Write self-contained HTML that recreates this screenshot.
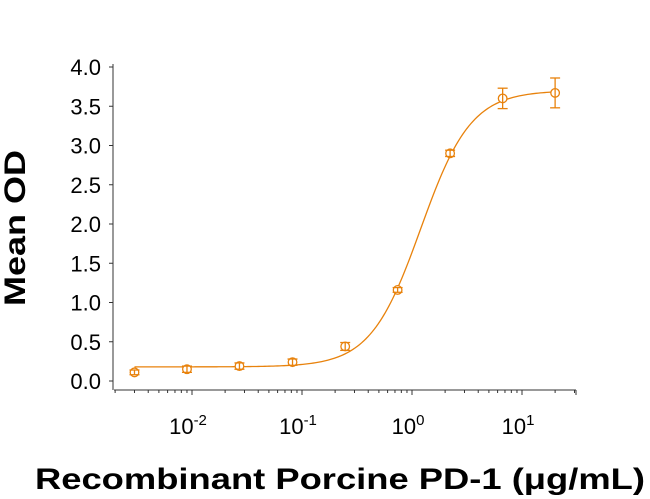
<!DOCTYPE html>
<html><head><meta charset="utf-8"><style>
html,body{margin:0;padding:0;background:#fff;}
svg{display:block;font-family:"Liberation Sans",Arial,sans-serif;}
</style></head><body>
<svg id="chart" width="650" height="499" viewBox="0 0 650 499">
<g id="axes"></g><g id="marks"></g>
<text x="25" y="228" transform="rotate(-90 25 228)" text-anchor="middle" font-size="30" font-weight="bold" textLength="156" lengthAdjust="spacingAndGlyphs">Mean OD</text>
<text x="340" y="489" text-anchor="middle" font-size="30" font-weight="bold" textLength="610" lengthAdjust="spacingAndGlyphs">Recombinant Porcine PD-1 (μg/mL)</text>
</svg>
<script>
const concentrations=[0.003,0.009,0.027,0.082,0.247,0.74,2.22,6.67,20];
const meanOD=[0.11,0.15,0.19,0.24,0.44,1.16,2.90,3.60,3.67];
const errorOD=[0.03,0.04,0.04,0.04,0.05,0.03,0.04,0.13,0.19];
const yTicks=[0,0.5,1,1.5,2,2.5,3,3.5,4];
const xDecades=[-2,-1,0,1];
const fitBottom=0.18, fitTop=3.70, fitEC50=1.2, fitHill=1.9;

const NS="http://www.w3.org/2000/svg";
const color="#e8820c";
const xs=v=>412+110*Math.log10(v);
const ys=v=>381-78.5*v;
function mk(tag,attrs,parent){const e=document.createElementNS(NS,tag);for(const k in attrs)e.setAttribute(k,attrs[k]);parent.appendChild(e);return e;}
const axes=document.getElementById('axes'), marks=document.getElementById('marks');

let yl=mk('line',{x1:113,y1:ys(4)-3,x2:113,y2:390,stroke:'#333','stroke-width':1},axes);


yTicks.forEach(t=>{
 let tk=mk('line',{x1:109,y1:ys(t),x2:113,y2:ys(t),stroke:'#333'},axes);
 
 
 let tx=mk('text',{x:101,y:ys(t)+8,'text-anchor':'end','font-size':22},axes);
 tx.textContent=t.toFixed(1);
 
 
});
let xl=mk('line',{x1:114,y1:390,x2:576,y2:390,stroke:'#333'},axes);


for(let d=-3;d<=1;d++){for(let m=1;m<=9;m++){const v=m*Math.pow(10,d);const x=xs(v);if(x<114||x>576)continue;
 let tk=mk('line',{x1:x,y1:390,x2:x,y2:m===1?395:393,stroke:'#333'},axes);
 
 }}
let te=mk('line',{x1:576,y1:390,x2:576,y2:395,stroke:'#333'},axes);


xDecades.forEach(d=>{
 const x=xs(Math.pow(10,d));
 let tx=mk('text',{x:x-4,y:434,'text-anchor':'middle','font-size':22},axes);
 tx.textContent='10';
 let sup=mk('tspan',{dy:-9,'font-size':15},tx);sup.textContent=String(d);
 
 
});

const fit=c=>fitBottom+(fitTop-fitBottom)/(1+Math.pow(fitEC50/c,fitHill));
let dstr='';const lo=Math.log10(concentrations[0]),hi=Math.log10(concentrations[concentrations.length-1]);
for(let i=0;i<=200;i++){const c=Math.pow(10,lo+(hi-lo)*i/200);dstr+=(i?'L':'M')+xs(c).toFixed(2)+','+ys(fit(c)).toFixed(2);}
let curve=mk('path',{d:dstr,fill:'none',stroke:color,'stroke-width':1.3},marks);



concentrations.forEach((c,i)=>{
 const x=xs(c),y=ys(meanOD[i]),e=errorOD[i]*78.5;
 let g=mk('g',{stroke:color,'stroke-width':1.3,fill:'none'},marks);
 
 
 mk('circle',{cx:x,cy:y,r:4.3,fill:'#fff'},g);
 mk('line',{x1:x,y1:y-e,x2:x,y2:y+e},g);
 mk('line',{x1:x-5,y1:y-e,x2:x+5,y2:y-e},g);
 mk('line',{x1:x-5,y1:y+e,x2:x+5,y2:y+e},g);
});
</script>
</body></html>
